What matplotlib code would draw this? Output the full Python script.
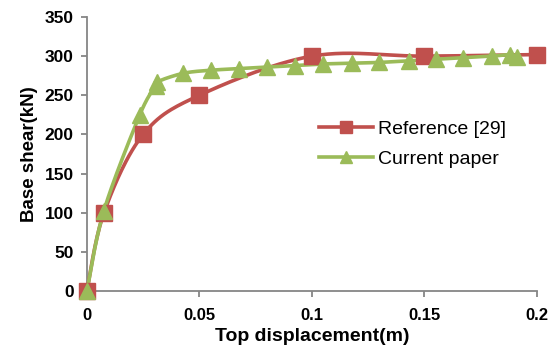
import numpy as np
import matplotlib
matplotlib.use("Agg")
import matplotlib.pyplot as plt
from matplotlib.lines import Line2D

ref_x = [0, 0.0076, 0.025, 0.05, 0.1, 0.15, 0.2]
ref_y = [0, 100, 200, 250, 300, 300, 302]

cur_x = [0, 0.0075, 0.0235, 0.0305, 0.031, 0.0427, 0.055, 0.0676, 0.080, 0.0924, 0.105,
         0.118, 0.130, 0.143, 0.155, 0.167, 0.180, 0.188, 0.191]
cur_y = [0, 102, 225, 262, 267, 278, 282, 284, 286, 288, 290,
         291, 292, 294, 296, 298, 300, 302, 299]

xticks = [0, 0.05, 0.1, 0.15, 0.2]
xticklabels = ["0", "0.05", "0.1", "0.15", "0.2"]
yticks = [0, 50, 100, 150, 200, 250, 300, 350]

RED = "#C0504D"
GREEN = "#9BBB59"


def smooth(x, y, n=30):
    x = np.asarray(x, float); y = np.asarray(y, float)
    px = np.concatenate([[x[0]], x, [x[-1]]])
    py = np.concatenate([[y[0]], y, [y[-1]]])
    out_x, out_y = [], []
    t = np.linspace(0, 1, n)
    for i in range(1, len(px) - 2):
        p0 = np.array([px[i], py[i]]); p3 = np.array([px[i + 1], py[i + 1]])
        c1 = p0 + (np.array([px[i + 1], py[i + 1]]) - np.array([px[i - 1], py[i - 1]])) / 6
        c2 = p3 - (np.array([px[i + 2], py[i + 2]]) - np.array([px[i], py[i]])) / 6
        b = ((1 - t) ** 3)[:, None] * p0 + (3 * (1 - t) ** 2 * t)[:, None] * c1 + \
            (3 * (1 - t) * t ** 2)[:, None] * c2 + (t ** 3)[:, None] * p3
        out_x.extend(b[:, 0]); out_y.extend(b[:, 1])
    return np.array(out_x), np.array(out_y)


plt.rcParams['font.family'] = ['Liberation Sans', 'DejaVu Sans']
fig = plt.figure(figsize=(5.57, 3.54), dpi=100)
ax = fig.add_axes([0.156, 0.178, 0.808, 0.774])

sx, sy = smooth(ref_x, ref_y)
ax.plot(sx, sy, color=RED, lw=2.6, solid_capstyle='round', zorder=2, clip_on=False)
sx2, sy2 = smooth(cur_x, cur_y)
ax.plot(sx2, sy2, color=GREEN, lw=2.6, solid_capstyle='round', zorder=3, clip_on=False)
ax.plot(ref_x, ref_y, ls='none', marker='s', ms=11.5, color=RED, mec=RED, zorder=4, clip_on=False)
ax.plot(cur_x, cur_y, ls='none', marker='^', ms=12, color=GREEN, mec=GREEN, zorder=5, clip_on=False)

ax.set_xlim(0, 0.2)
ax.set_ylim(0, 350)
ax.set_xticks(xticks)
ax.set_xticklabels(xticklabels)
ax.set_yticks(yticks)
for s in ['top', 'right']:
    ax.spines[s].set_visible(False)
for s in ['left', 'bottom']:
    ax.spines[s].set_color('#868686')
    ax.spines[s].set_linewidth(1.3)
    ax.spines[s].set_zorder(1)
ax.tick_params(axis='both', direction='out', length=4.5, width=1.3, color='#868686')
ax.tick_params(axis='y', labelsize=12.5, pad=5)
ax.tick_params(axis='x', labelsize=12, pad=8)
for lab in ax.get_xticklabels() + ax.get_yticklabels():
    lab.set_fontweight('bold')
ax.set_xlabel("Top displacement(m)", fontsize=14, fontweight='bold', labelpad=3)
ax.set_ylabel("Base shear(kN)", fontsize=13.5, fontweight='bold', labelpad=5)

handles = [Line2D([], [], color=RED, lw=2.6, marker='s', ms=9),
           Line2D([], [], color=GREEN, lw=2.6, marker='^', ms=9)]
ax.legend(handles, ["Reference [29]", "Current paper"], loc='center left',
          bbox_to_anchor=(0.516, 0.536), frameon=False, fontsize=14,
          handlelength=2.78, handletextpad=0.26, labelspacing=0.65,
          borderpad=0, borderaxespad=0)

fig.savefig("out.png", dpi=100)
